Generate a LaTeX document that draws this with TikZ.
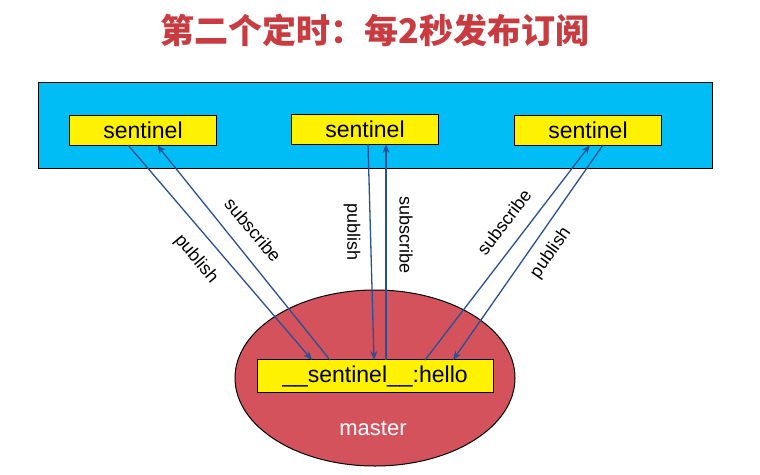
\documentclass[tikz,border=0pt]{standalone}
\usepackage{fontspec}
\setmainfont{Liberation Sans}
\newfontfamily\cjk{Noto Sans CJK SC}
\usetikzlibrary{arrows.meta,shapes.geometric}
\definecolor{titlered}{RGB}{200,60,65}
\definecolor{panelblue}{RGB}{0,190,245}
\definecolor{masterred}{RGB}{212,82,92}
\definecolor{arrowblue}{RGB}{40,80,150}
\begin{document}
\begin{tikzpicture}
[
x=1pt, y=-1pt,
sbox/.style={rectangle, draw=black, fill=yellow, line width=1pt, minimum width=147pt, minimum height=30pt, inner sep=0pt, font=\fontsize{23}{25}\selectfont},
lbl/.style={font=\fontsize{18}{20}\selectfont, inner sep=0pt},
link/.style={draw=arrowblue, line width=1.3pt, -{Stealth[length=9pt,width=7pt]}},
]
\useasboundingbox (0,0) rectangle (760,474);
\node at (375,30) [font=\cjk\bfseries\fontsize{34}{38}\selectfont, text=titlered] (title) {第二个定时：每2秒发布订阅};
\node at (375,125) [rectangle, draw=black, fill=panelblue, line width=1pt, minimum width=674pt, minimum height=86pt] (panel) {};
\node at (143,130) [sbox] (s1) {sentinel};
\node at (365,129) [sbox] (s2) {sentinel};
\node at (588,130) [sbox] (s3) {sentinel};
\node at (375,378) [ellipse, draw=black, fill=masterred, line width=1pt, minimum width=280pt, minimum height=176pt] (master) {};
\node at (375,376) [sbox, minimum width=236pt, minimum height=33pt] (hello) {\_\_sentinel\_\_:hello};
\node at (373,428) [font=\fontsize{22}{24}\selectfont, text=white] (mlabel) {master};

\coordinate (p1a) at (128,145); \coordinate (p1b) at (312,360);
\coordinate (q1a) at (330,360); \coordinate (q1b) at (157,145);
\coordinate (p2a) at (368,144); \coordinate (p2b) at (374,360);
\coordinate (q2a) at (386,360); \coordinate (q2b) at (386,144);
\coordinate (q3a) at (425,360); \coordinate (q3b) at (590,145);
\coordinate (p3a) at (603,145); \coordinate (p3b) at (453,360);

\draw[link] (p1a) -- (p1b);
\draw[link] (q1a) -- (q1b);
\draw[link] (p2a) -- (p2b);
\draw[link] (q2a) -- (q2b);
\draw[link] (q3a) -- (q3b);
\draw[link] (p3a) -- (p3b);

\node at (196,259) [lbl, rotate=-50] (l1) {publish};
\node at (253,230) [lbl, rotate=-50] (l2) {subscribe};
\node at (352,232) [lbl, rotate=-90] (l3) {publish};
\node at (406,235) [lbl, rotate=-90] (l4) {subscribe};
\node at (504,222) [lbl, rotate=53] (l5) {subscribe};
\node at (551,253) [lbl, rotate=55] (l6) {publish};
\end{tikzpicture}
\end{document}
